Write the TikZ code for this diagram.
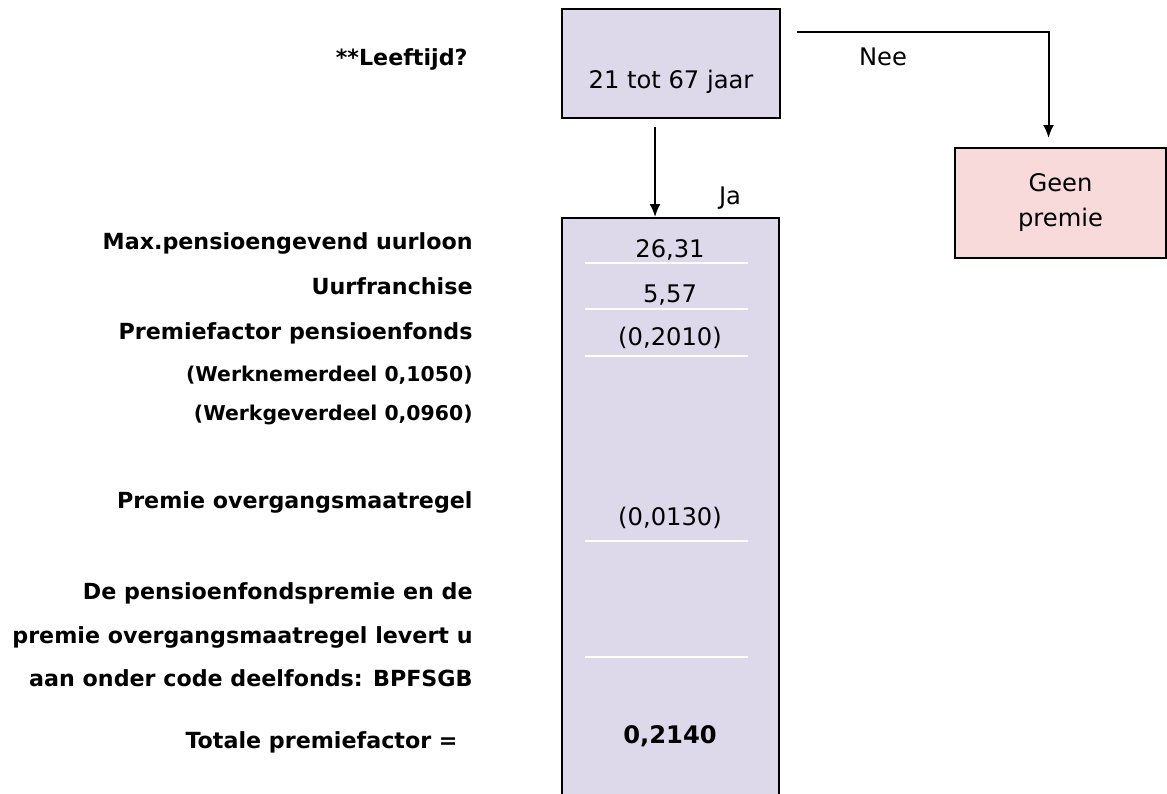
\documentclass[tikz,border=0pt]{standalone}
\usepackage{fontspec}
\setmainfont{DejaVu Sans}
\usepackage{tikz}
\usetikzlibrary{calc, positioning}
\usetikzlibrary{arrows.meta}
\definecolor{lavendel}{RGB}{221,217,235}
\definecolor{roze}{RGB}{249,218,218}
\tikzset{
    auto,node distance =1.1 cm and 1.1 cm,% units below are pixels of the page
}

\begin{document}
\begin{tikzpicture}
            [x=0.5pt,y=-0.5pt,
            every node/.style={font=\fontsize{12.1}{17.5}\selectfont},
            vak/.style={draw=black,line width=1pt,inner sep=0pt,anchor=north},
            lbl/.style={font=\fontsize{11.1}{17.5}\selectfont\bfseries,anchor=base east,inner sep=0pt},
            klein/.style={font=\fontsize{10.2}{12}\selectfont\bfseries},
            val/.style={anchor=base,inner sep=0pt},
            pijl/.style={line width=1pt,-{Latex[length=6.5pt,width=5.5pt]}}
            ]
            \clip (0,0) rectangle (1167,793);
            \node(leeftijd) [vak,fill=lavendel,minimum width=109pt,minimum height=54.5pt] at (671,8) {};
            \node(leeftijdtxt) [val] at (671,88) {21 tot 67 jaar};
            \node(tabel) [vak,fill=lavendel,minimum width=108.5pt,minimum height=310pt] at (670.5,217) {};
            \node(geen) [vak,fill=roze,minimum width=105.5pt,minimum height=55pt,align=center] at (1060.5,147) {Geen\\premie};
            % ja / nee
            \draw[pijl] ($(leeftijd.south)+(-16,8)$) -- ($(tabel.north)+(-15.5,0)$);
            \node(ja) [val] at (730,204) {Ja};
            \coordinate (neestart) at ($(leeftijd.north east)+(16,24)$);
            \draw[pijl] (neestart) -| ($(geen.north)+(-12,-9)$);
            \node(nee) [val] at (883,65) {Nee};
            % regels in de tabel
            \foreach \y in {263,309,356,541,657}
                \draw[white,line width=1pt] (585,\y) -- (748,\y);
            \node(v1) [val] at (670,257) {26,31};
            \node(v2) [val] at (670,302) {5,57};
            \node(v3) [val] at (670,345) {(0,2010)};
            \node(v4) [val] at (670,525) {(0,0130)};
            \node(v5) [val,font=\fontsize{12.1}{17.5}\selectfont\bfseries] at (670,743) {0,2140};
            % omschrijvingen
            \node(vraag) [lbl] at (468,65) {**Leeftijd?};
            \node(l1) [lbl] at (473,249) {Max.pensioengevend uurloon};
            \node(l2) [lbl] at (473,294) {Uurfranchise};
            \node(l3) [lbl] at (473,339) {Premiefactor pensioenfonds};
            \node(l4) [lbl,klein] at (473,381) {(Werknemerdeel 0,1050)};
            \node(l5) [lbl,klein] at (473,420) {(Werkgeverdeel 0,0960)};
            \node(l6) [lbl] at (473,508) {Premie overgangsmaatregel};
            \node(l7) [lbl] at (473,599) {De pensioenfondspremie en de};
            \node(l8) [lbl] at (473,643) {premie overgangsmaatregel levert u};
            \node(l9) [lbl] at (473,686) {aan onder code deelfonds: BPFSGB};
            \node(l10) [lbl] at (458,748) {Totale premiefactor =};
        \end{tikzpicture}
\end{document}
